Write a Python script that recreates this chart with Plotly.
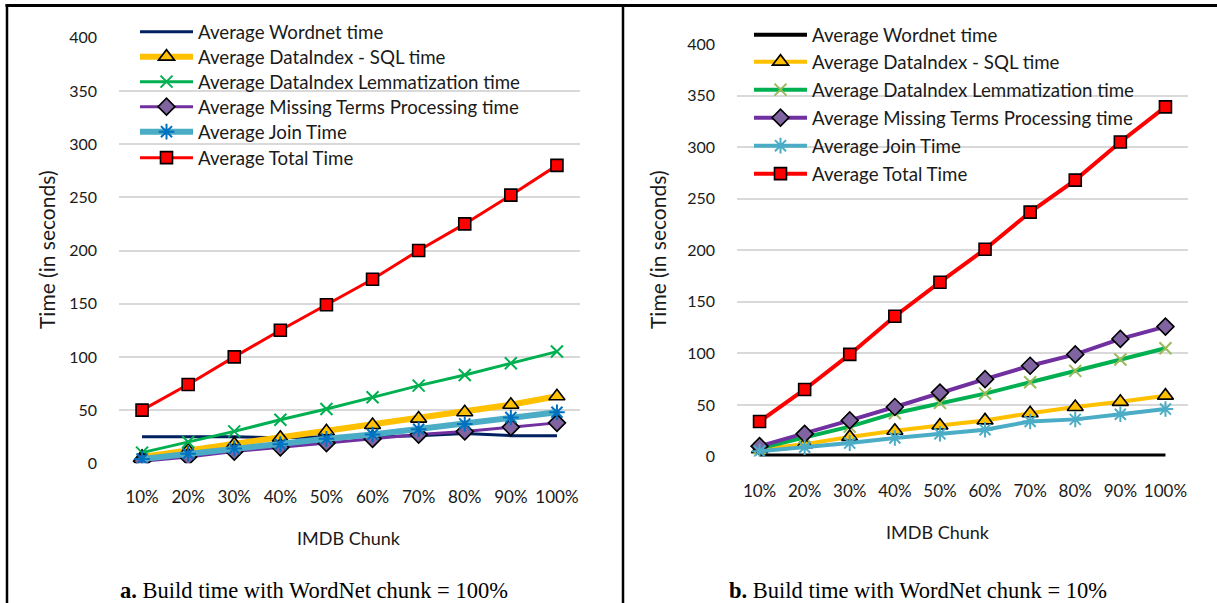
import plotly.graph_objects as go

categories = ["10%", "20%", "30%", "40%", "50%", "60%", "70%", "80%", "90%", "100%"]
series_names = [
    "Average Wordnet time",
    "Average DataIndex - SQL time",
    "Average DataIndex Lemmatization time",
    "Average Missing Terms Processing time",
    "Average Join Time",
    "Average Total Time",
]

# Chart a: WordNet chunk = 100%
a_wordnet = [25, 25, 25, 24, 25, 25, 26, 28, 26, 26]
a_sql = [6, 12, 18, 24, 30, 36, 42, 48, 55, 63]
a_lemma = [10, 20, 30, 41, 51, 62, 73, 83, 94, 105]
a_missing = [2, 6, 11, 15, 19, 23, 27, 30, 34, 38]
a_join = [4, 9, 14, 18, 23, 27, 32, 37, 43, 48]
a_total = [50, 74, 100, 125, 149, 173, 200, 225, 252, 280]

# Chart b: WordNet chunk = 10%
b_wordnet = [1, 1, 1, 1, 1, 1, 1, 1, 1, 1]
b_sql = [7, 12, 19, 25, 30, 35, 42, 48, 53, 59]
b_lemma = [8, 19, 29, 42, 52, 61, 72, 83, 94, 105]
b_missing = [10, 22, 35, 48, 62, 75, 88, 99, 114, 126]
b_join = [5, 9, 13, 18, 22, 26, 34, 36, 41, 46]
b_total = [34, 65, 99, 136, 169, 201, 237, 268, 305, 339]

y_ticks = [0, 50, 100, 150, 200, 250, 300, 350, 400]
caption_a = "<b>a.</b> Build time with WordNet chunk = 100%"
caption_b = "<b>b.</b> Build time with WordNet chunk = 10%"
y_title = "Time (in seconds)"
x_title = "IMDB Chunk"

W, H = 1217, 603
FONT = "Lato, Carlito, Calibri, sans-serif"
TXT = "#1a1a1a"

fig = go.Figure()

styles_a = [
    dict(line=dict(color="#002060", width=3), mode="lines", marker=dict()),
    dict(line=dict(color="#FFC000", width=6), mode="lines+markers",
         marker=dict(symbol="triangle-up", size=14, color="#FFC000", line=dict(color="black", width=1.6))),
    dict(line=dict(color="#00B050", width=3), mode="lines+markers",
         marker=dict(symbol="x-thin", size=12, color="#00B050", line=dict(color="#00B050", width=2))),
    dict(line=dict(color="#7030A0", width=3), mode="lines+markers",
         marker=dict(symbol="diamond", size=13, color="#8064A2", line=dict(color="black", width=1.6))),
    dict(line=dict(color="#4BACC6", width=6), mode="lines+markers",
         marker=dict(symbol="asterisk", size=13, color="#0070C0", line=dict(color="#0070C0", width=2))),
    dict(line=dict(color="#FF0000", width=3), mode="lines+markers",
         marker=dict(symbol="square", size=12, color="#FF0000", line=dict(color="black", width=1.6))),
]
styles_b = [
    dict(line=dict(color="#000000", width=4), mode="lines", marker=dict()),
    dict(line=dict(color="#FFC000", width=4), mode="lines+markers",
         marker=dict(symbol="triangle-up", size=14, color="#FFC000", line=dict(color="black", width=1.6))),
    dict(line=dict(color="#00B050", width=4), mode="lines+markers",
         marker=dict(symbol="x-thin", size=12, color="#9BBB59", line=dict(color="#9BBB59", width=2))),
    dict(line=dict(color="#7030A0", width=4), mode="lines+markers",
         marker=dict(symbol="diamond", size=13, color="#8064A2", line=dict(color="black", width=1.6))),
    dict(line=dict(color="#4BACC6", width=4), mode="lines+markers",
         marker=dict(symbol="asterisk", size=13, color="#4BACC6", line=dict(color="#4BACC6", width=2))),
    dict(line=dict(color="#FF0000", width=4), mode="lines+markers",
         marker=dict(symbol="square", size=12, color="#FF0000", line=dict(color="black", width=1.6))),
]

data_a = [a_wordnet, a_sql, a_lemma, a_missing, a_join, a_total]
data_b = [b_wordnet, b_sql, b_lemma, b_missing, b_join, b_total]

def px_x(v):
    return v / W

def px_y(v):
    return 1 - v / H

# legend row centres (pixels) for each panel
rows_a = [32, 57, 82, 107, 132, 158]
rows_b = [35, 62, 90, 118, 146, 174]
legend_font = dict(family=FONT, size=18.7, color=TXT)
legend_layout = {}

for i, (name, vals, st) in enumerate(zip(series_names, data_a, styles_a)):
    key = "legend" if i == 0 else "legend%d" % (i + 1)
    fig.add_trace(go.Scatter(x=categories, y=vals, name=name, xaxis="x", yaxis="y",
                             legend=key, **st))
    legend_layout[key] = dict(x=px_x(135), y=px_y(rows_a[i]), xanchor="left", yanchor="middle",
                              bgcolor="rgba(0,0,0,0)", font=legend_font, itemwidth=53, borderwidth=0)
for i, (name, vals, st) in enumerate(zip(series_names, data_b, styles_b)):
    key = "legend%d" % (i + 7)
    fig.add_trace(go.Scatter(x=categories, y=vals, name=name, xaxis="x2", yaxis="y2",
                             legend=key, **st))
    legend_layout[key] = dict(x=px_x(749), y=px_y(rows_b[i]), xanchor="left", yanchor="middle",
                              bgcolor="rgba(0,0,0,0)", font=legend_font, itemwidth=53, borderwidth=0)

xtickfont = dict(family=FONT, size=17, color=TXT)
ytickfont = dict(family=FONT, size=16, color=TXT)
common_x = dict(type="category", range=[-0.5, 9.5], showgrid=False, zeroline=False, automargin=False,
                showline=False, ticks="", tickfont=xtickfont, ticklabelstandoff=22, fixedrange=True)
common_y = dict(range=[0, 400], tickvals=y_ticks, showgrid=True, gridcolor="#D9D9D9", gridwidth=1.5,
                zeroline=False, showline=False, ticks="", tickfont=ytickfont, ticklabelstandoff=21,
                automargin=False, fixedrange=True)

fig.update_layout(
    template="none",
    width=W, height=H,
    margin=dict(l=0, r=0, t=0, b=0, pad=0, autoexpand=False),
    paper_bgcolor="white", plot_bgcolor="white",
    font=dict(family=FONT, size=16, color=TXT),
    xaxis=dict(domain=[px_x(119), px_x(580)], anchor="y", **common_x),
    yaxis=dict(domain=[px_y(463.3), px_y(37.7)], anchor="x", **common_y),
    xaxis2=dict(domain=[px_x(737), px_x(1188)], anchor="y2", **common_x),
    yaxis2=dict(domain=[px_y(456.5), px_y(44)], anchor="x2", **common_y),
    showlegend=True,
    **legend_layout,
)

annotations = [
    dict(text=y_title, x=px_x(46), y=px_y(250), textangle=-90, font=dict(family=FONT, size=21, color=TXT)),
    dict(text=y_title, x=px_x(657), y=px_y(250), textangle=-90, font=dict(family=FONT, size=21, color=TXT)),
    dict(text=x_title, x=px_x(349), y=px_y(538), font=dict(family=FONT, size=18, color=TXT)),
    dict(text=x_title, x=px_x(938), y=px_y(532), font=dict(family=FONT, size=18, color=TXT)),
    dict(text=caption_a, x=px_x(314), y=px_y(590), font=dict(family="Liberation Serif, Times New Roman, serif", size=22.5, color="black")),
    dict(text=caption_b, x=px_x(918), y=px_y(590), font=dict(family="Liberation Serif, Times New Roman, serif", size=22.5, color="black")),
]
for an in annotations:
    an.update(xref="paper", yref="paper", showarrow=False, xanchor="center", yanchor="middle")
fig.update_layout(annotations=annotations)

fig.update_layout(shapes=[
    dict(type="line", xref="paper", yref="paper", x0=px_x(5.5), x1=1, y0=px_y(5.5), y1=px_y(5.5),
         line=dict(color="black", width=3)),
    dict(type="line", xref="paper", yref="paper", x0=px_x(7), x1=px_x(7), y0=px_y(4), y1=0,
         line=dict(color="black", width=2.5)),
    dict(type="line", xref="paper", yref="paper", x0=px_x(623), x1=px_x(623), y0=px_y(4), y1=0,
         line=dict(color="black", width=2.5)),
])

fig.write_html("out.html")
